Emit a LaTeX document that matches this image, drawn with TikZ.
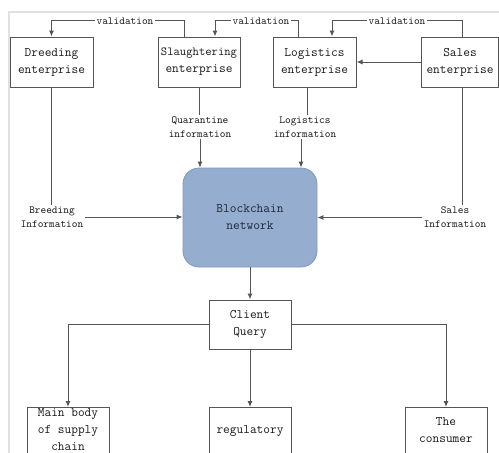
\documentclass[tikz,border=0pt]{standalone}
\usepackage{fontspec}
\setmonofont{Latin Modern Mono}
\usetikzlibrary{arrows.meta,calc}
\definecolor{linec}{RGB}{85,85,85}
\definecolor{txtc}{RGB}{25,25,25}
\definecolor{chainfill}{RGB}{149,174,207}
\definecolor{chainline}{RGB}{130,152,185}
\definecolor{framec}{RGB}{225,225,225}
\tikzset{
  box/.style={draw=linec, line width=1pt, minimum width=82pt, minimum height=50pt, inner sep=0pt, align=center, font=\ttfamily\fontsize{13}{17}\selectfont, text=txtc},
  lbl/.style={align=center, inner sep=1.5pt, font=\ttfamily\fontsize{10.8}{14}\selectfont, text=txtc},
  vlbl/.style={lbl, fill=white},
  btxt/.style={align=center, inner sep=0pt, font=\ttfamily\fontsize{13}{17}\selectfont, text=txtc},
  conn/.style={draw=linec, line width=1pt},
  arr/.style={conn, -{Latex[length=6pt,width=5pt]}},
}
\begin{document}
\begin{tikzpicture}[x=1pt,y=-1pt]
\useasboundingbox (0,0) rectangle (499,453);
\clip (0,0) rectangle (499,453);
\fill[white] (0,0) rectangle (499,453);
\draw[framec, line width=1.5pt] (499,12) -- (9,12) -- (9,453);

% top boxes
\node[box, minimum width=83pt] (breed) at (51.5,62) {Dreeding\\enterprise};
\node[box] (slaug) at (199,62) {{\fontsize{12.3}{17}\selectfont Slaughtering}\\enterprise};
\node[box, minimum width=83pt] (logi) at (314.5,62) {Logistics\\enterprise};
\node[box, minimum width=77pt] (sales) at (460,62) {Sales\\enterprise};

% blockchain
\node[draw=chainline, fill=chainfill, line width=0.8pt, rounded corners=16pt, minimum width=134pt, minimum height=99pt, align=center, font=\ttfamily\fontsize{13.1}{17}\selectfont, text={rgb,255:red,30;green,38;blue,58}] (chain) at (250,217.5) {Blockchain\\network};

% client
\node[box, minimum height=49pt] (client) at (250,324.5) {Client\\Query};

% bottom boxes
\node[box, anchor=north, minimum height=80pt] (main) at (68,407) {};
\node[btxt] (mainT) at (68,430) {Main body\\of supply\\chain};
\node[box, anchor=north, minimum height=80pt] (reg) at (250,407) {};
\node[btxt] (regT) at (250,431) {regulatory};
\node[box, anchor=north, minimum height=80pt] (cons) at (446,407) {};
\node[btxt] (consT) at (446,430) {The\\consumer};

% info labels
\node[lbl] (binfo) at (52,217) {Breeding\\Information};
\node[lbl] (qinfo) at (200,127) {Quarantine\\information};
\node[lbl] (linfo) at (305,127) {Logistics\\information};
\node[lbl] (sinfo) at (455,217.5) {Sales\\Information};

% validation connectors
\draw[arr] ([xshift=-15pt]slaug.north) -- ++(0,-16) -| (breed.north);
\draw[arr] ([xshift=-16.5pt]logi.north) -- ++(0,-16) -| ([xshift=16pt]slaug.north);
\draw[arr] ([xshift=2pt]sales.north) -- ++(0,-16) -| ([xshift=17.5pt]logi.north);
\node[vlbl] (v1) at (125,21) {validation};
\node[vlbl] (v2) at (261,21) {validation};
\node[vlbl] (v3) at (397,21) {validation};

\draw[arr] (sales.west) -- (logi.east);

% info flows
\draw[conn] (breed.south) -- (breed.south |- binfo.north);
\draw[arr] (binfo.east) -- (binfo.east -| chain.west);
\draw[conn] (qinfo.north -| slaug.south) -- (slaug.south);
\draw[arr] (qinfo.south) -- (qinfo.south |- chain.north);
\coordinate (l1) at ([xshift=2pt]linfo.north);
\coordinate (l2) at ([xshift=-4pt]linfo.south);
\draw[conn] (l1 |- logi.south) -- (l1);
\draw[arr] (l2) -- (l2 |- chain.north);
\coordinate (s1) at ([xshift=2.5pt]sales.south);
\draw[conn] (s1) -- (s1 |- sinfo.north);
\draw[arr] (sinfo.west) -- (sinfo.west -| chain.east);

% query flows
\draw[arr] (chain.south) -- (client.north);
\draw[arr] (client.west) -| (main.north);
\draw[arr] (client.south) -- (reg.north);
\draw[arr] (client.east) -| (cons.north);
\end{tikzpicture}
\end{document}
